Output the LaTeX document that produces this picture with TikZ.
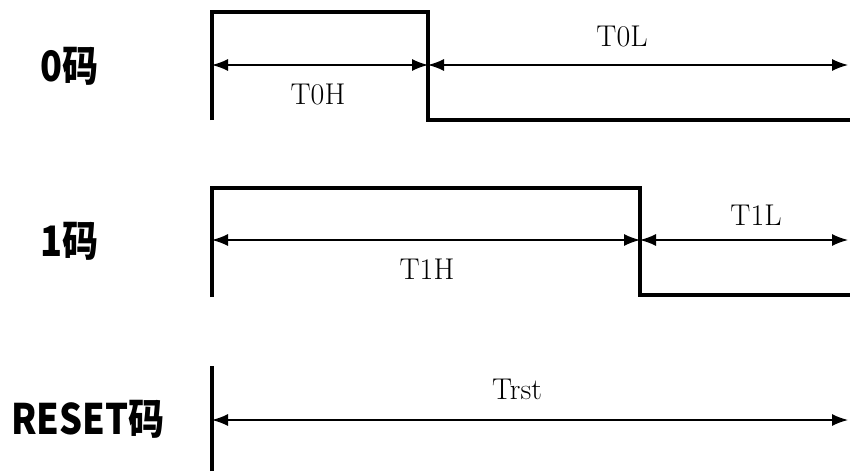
\documentclass[tikz,border=0pt]{standalone}
\usepackage{fontspec}
\newfontfamily\cjk{Noto Sans CJK SC}[FakeStretch=0.86]
\usetikzlibrary{arrows.meta}
\tikzset{
  wave/.style={line width=1.6pt},
  span/.style={line width=0.7pt,{Latex[length=8pt,width=6pt]}-{Latex[length=8pt,width=6pt]}},
  code/.style={font=\cjk\bfseries\fontsize{21}{24}\selectfont},
  tlabel/.style={font=\fontsize{15}{17}\selectfont}
}
\begin{document}
\begin{tikzpicture}[x=0.5pt,y=-0.5pt]
  \useasboundingbox (0,0) rectangle (850,471);
  % 0 code
  \coordinate (a0) at (212,120);
  \coordinate (b0) at (212,12);
  \coordinate (c0) at (428,12);
  \coordinate (d0) at (428,120);
  \coordinate (e0) at (850,120);
  \coordinate (s0) at (212,65);
  \coordinate (m0) at (428,65);
  \coordinate (f0) at (848,65);
  % 1 code
  \coordinate (a1) at (212,297);
  \coordinate (b1) at (212,188);
  \coordinate (c1) at (640,188);
  \coordinate (d1) at (640,295);
  \coordinate (e1) at (850,295);
  \coordinate (s1) at (212,240);
  \coordinate (m1) at (640,240);
  \coordinate (f1) at (848,240);
  % reset code
  \coordinate (a2) at (212,471);
  \coordinate (b2) at (212,366);
  \coordinate (s2) at (212,420);
  \coordinate (f2) at (848,420);

  \draw
    (70,66) node[code] (zero){0码}
    (70,241) node[code] (one){1码}
    (88,419) node[code] (rst){RESET码};
  \draw
    (318,94) node[tlabel] (t0h){T0H}
    (622,36) node[tlabel] (t0l){T0L}
    (427,269) node[tlabel] (t1h){T1H}
    (756,215) node[tlabel] (t1l){T1L}
    (517,389) node[tlabel] (trst){Trst};
  \begin{scope}[wave]
    \draw (a0) -- (b0) -- (c0) -- (d0) -- (e0);
    \draw (a1) -- (b1) -- (c1) -- (d1) -- (e1);
    \draw (a2) -- (b2);
  \end{scope}
  \begin{scope}[span]
    \draw (s0) to (m0);
    \draw (m0) to (f0);
    \draw (s1) to (m1);
    \draw (m1) to (f1);
    \draw (s2) to (f2);
  \end{scope}
\end{tikzpicture}
\end{document}
